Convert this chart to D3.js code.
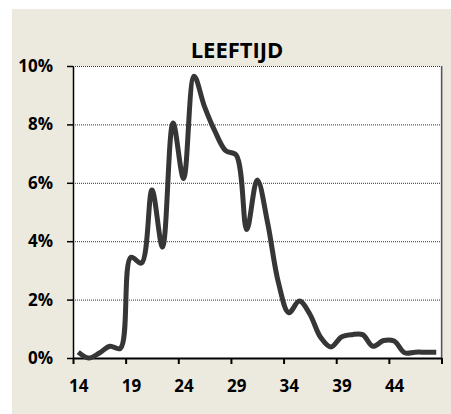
<!DOCTYPE html>
<html>
<head>
<meta charset="utf-8">
<script src="https://cdn.jsdelivr.net/npm/d3@7"></script>
<style>
  body { margin: 0; background: #fff; }
  text { font-family: "Open Sans", sans-serif; font-weight: bold; fill: #000; }
</style>
</head>
<body>
<div class="line-chart"></div>
<script>
// leeftijd (age) categories and share per age in %
const ages = [14, 15, 16, 17, 18, 19, 20, 21, 22, 23, 24, 25, 26, 27, 28, 29, 30, 31,
  32, 33, 34, 35, 36, 37, 38, 39, 40, 41, 42, 43, 44, 45, 46, 47, 48]
const shares = [0.2, 0.0, 0.17, 0.4, 0.33, 3.45, 3.25, 5.75, 3.8, 8.05, 6.15, 9.65, 8.6, 7.75,
  7.1, 6.95, 4.4, 6.1, 4.6, 2.6, 1.55, 1.95, 1.5, 0.72, 0.38, 0.72, 0.8, 0.8, 0.4, 0.6,
  0.58, 0.18, 0.2, 0.2, 0.2]
const yTicks = [0, 2, 4, 6, 8, 10]
const xLabels = [14, 19, 24, 29, 34, 39, 44]
const xTickEdges = [13.5, 18.5, 23.5, 28.5, 33.5, 38.5, 43.5, 48.5]
const title = "LEEFTIJD"

const data = ages.map((a, i) => ({age: a, value: shares[i]}))

const W = 451, H = 414
const plot = {left: 73, top: 66, right: 441.5, bottom: 358}

const svg = d3.select(".line-chart")
    .append("svg")
    .attr("width", W)
    .attr("height", H)

// chart area background
svg.append("rect")
    .attr("x", 12).attr("y", 9)
    .attr("width", W - 12).attr("height", 405)
    .attr("fill", "#eceade")

// plot area
svg.append("rect")
    .attr("x", plot.left).attr("y", plot.top)
    .attr("width", plot.right - plot.left).attr("height", plot.bottom - plot.top)
    .attr("fill", "#fff")

const x = d3.scaleLinear()
    .domain([13.5, 48.5])
    .range([plot.left, plot.right])

const y = d3.scaleLinear()
    .domain([0, 10])
    .range([plot.bottom, plot.top])

// gridlines
svg.append("g")
    .selectAll("line")
    .data(yTicks.filter(d => d > 0))
    .join("line")
    .attr("x1", plot.left).attr("x2", plot.right)
    .attr("y1", d => y(d) + 0.5).attr("y2", d => y(d) + 0.5)
    .attr("stroke", "#333")
    .attr("stroke-width", 1)
    .attr("stroke-dasharray", "1,1")

// right border of plot area
svg.append("line")
    .attr("x1", plot.right + 1).attr("x2", plot.right + 1)
    .attr("y1", plot.top).attr("y2", plot.bottom)
    .attr("stroke", "#bbb").attr("stroke-width", 1)
svg.append("line")
    .attr("x1", plot.right).attr("x2", plot.right)
    .attr("y1", plot.top).attr("y2", plot.bottom)
    .attr("stroke", "#555").attr("stroke-width", 1.3)

// y axis
const yAxisGroup = svg.append("g")
    .attr("transform", `translate(${plot.left},0)`)
    .call(d3.axisLeft(y)
        .tickValues(yTicks)
        .tickSize(6)
        .tickSizeOuter(0)
        .tickPadding(14)
        .tickFormat(d => d + "%"))
yAxisGroup.select(".domain").attr("stroke", "#000").attr("stroke-width", 1.5)
yAxisGroup.selectAll(".tick line").attr("stroke", "#000").attr("stroke-width", 1.5)
yAxisGroup.selectAll("text")
    .attr("font-size", 17)
    .attr("font-family", "Open Sans, sans-serif")
    .attr("font-weight", "bold")
    .attr("fill", "#000")

// x axis tick marks at category edges
const xAxisGroup = svg.append("g")
    .attr("transform", `translate(0,${plot.bottom})`)
    .call(d3.axisBottom(x)
        .tickValues(xTickEdges)
        .tickSize(6)
        .tickSizeOuter(0)
        .tickFormat(""))
xAxisGroup.select(".domain").attr("stroke", "#000").attr("stroke-width", 2)
xAxisGroup.selectAll(".tick line").attr("stroke", "#000").attr("stroke-width", 2)

// x labels centred on categories
const xLabelGroup = svg.append("g")
    .attr("transform", `translate(0,${plot.bottom})`)
    .call(d3.axisBottom(x)
        .tickValues(xLabels)
        .tickSize(0)
        .tickPadding(22))
xLabelGroup.select(".domain").remove()
xLabelGroup.selectAll("text")
    .attr("font-size", 17)
    .attr("font-family", "Open Sans, sans-serif")
    .attr("font-weight", "bold")
    .attr("fill", "#000")

// title
svg.append("text")
    .attr("x", 237)
    .attr("y", 58)
    .attr("text-anchor", "middle")
    .attr("font-size", 22)
    .text(title)

// the line
const line = d3.line()
    .curve(d3.curveCatmullRom)
    .x(d => x(d.age))
    .y(d => y(d.value))

svg.append("path")
    .datum(data)
    .attr("fill", "none")
    .attr("stroke", "#363636")
    .attr("stroke-width", 5)
    .attr("stroke-linejoin", "round")
    .attr("d", line)
</script>
</body>
</html>
